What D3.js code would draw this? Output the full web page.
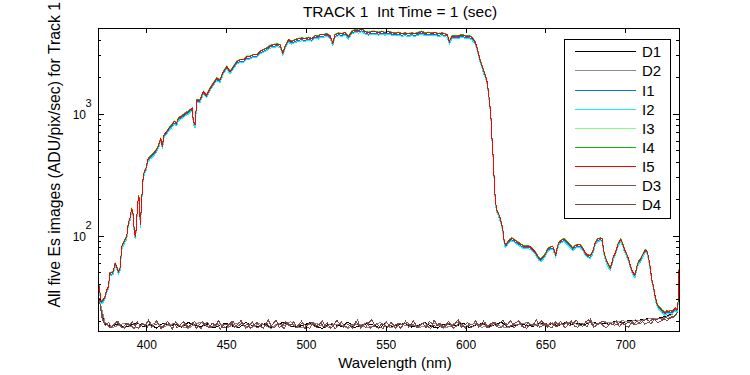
<!DOCTYPE html>
<html>
<head>
<meta charset="utf-8">
<script src="https://cdn.jsdelivr.net/npm/d3@7"></script>
<style>
body { margin: 0; background: #fff; }
svg { display: block; font-family: "Liberation Sans", Arial, Helvetica, sans-serif; }
</style>
</head>
<body>
<svg id="chart" width="750" height="375"></svg>
<script>
// Wavelengths (nm) of the image samples
const signalWl = [
    370.1, 371.3, 372.7, 373.8, 374.9, 375.9, 376.9, 378.0, 379.0, 380.1,
    381.1, 382.1, 383.2, 384.3, 385.3, 386.3, 387.4, 388.4, 389.5, 390.5,
    391.5, 392.2, 393.0, 394.0, 394.7, 395.3, 395.9, 396.8, 397.4, 398.4,
    399.5, 400.6, 402.0, 403.4, 405.1, 406.6, 407.8, 408.7, 409.7, 410.8,
    412.5, 413.9, 415.6, 417.2, 418.7, 419.7, 421.4, 422.9, 423.9, 426.0,
    427.1, 428.5, 429.1, 430.2, 431.3, 433.3, 435.4, 437.5, 439.6, 441.7,
    443.8, 445.9, 447.9, 450.1, 452.1, 454.2, 456.3, 458.4, 460.5, 462.6,
    464.7, 466.7, 468.9, 470.9, 473.0, 475.1, 477.2, 479.3, 481.4, 483.5,
    485.2, 486.6, 488.7, 490.8, 492.9, 494.9, 497.1, 499.1, 501.2, 503.3,
    505.4, 507.5, 508.5, 510.6, 512.7, 514.8, 516.5, 517.9, 520.0, 522.1,
    524.2, 526.3, 528.4, 530.5, 532.5, 534.7, 536.7, 538.8, 540.9, 543.0,
    545.1, 547.2, 549.2, 551.3, 553.4, 555.5, 557.6, 559.7, 561.8, 563.8,
    566.0, 568.0, 570.1, 572.2, 574.3, 576.4, 578.5, 580.6, 582.6, 584.8,
    586.8, 588.3, 589.5, 591.0, 593.1, 595.2, 597.3, 599.4, 601.4, 603.6,
    605.6, 606.7, 607.7, 608.8, 609.8, 610.8, 611.9, 613.0, 614.0, 615.0,
    615.7, 616.3, 617.1, 617.7, 618.4, 619.2, 620.2, 621.3, 622.4, 623.4,
    624.0, 624.9, 625.9, 627.1, 628.6, 629.6, 631.8, 633.8, 635.9, 638.0,
    640.1, 641.2, 643.2, 645.3, 646.8, 648.4, 649.9, 651.0, 652.6, 654.3,
    655.1, 656.2, 657.2, 658.5, 660.0, 661.4, 663.1, 665.2, 666.9, 668.3,
    669.8, 671.5, 673.1, 674.6, 676.0, 677.7, 679.4, 680.8, 682.3, 684.0,
    685.3, 686.1, 687.1, 688.2, 689.2, 690.3, 691.3, 692.3, 693.4, 694.4,
    695.4, 696.9, 698.0, 699.0, 700.3, 701.7, 702.8, 703.8, 704.8, 705.9,
    707.0, 708.0, 709.1, 710.1, 711.1, 712.2, 713.2, 714.2, 715.3, 716.4,
    717.4, 718.5, 719.5, 720.5, 721.6, 722.6, 723.7, 724.7, 725.8, 726.8,
    727.9, 728.9, 730.0, 731.0, 732.1, 732.7, 733.4
];

// I5 (red trace), ADU/pix/sec
const signalI5 = [
    39.1, 28.9, 29.9, 31.8, 36.1, 38.4, 49.5, 50.0, 51.0, 59.7,
    56.0, 51.0, 54.4, 81.7, 87.1, 92.7, 98.7, 127, 140, 169,
    149, 105, 98.7, 163, 210, 204, 123, 197, 279, 337,
    359, 420, 447, 461, 491, 523, 575, 632, 540, 673,
    716, 764, 812, 865, 839, 922, 951, 982, 1013, 1045,
    1079, 1113, 865, 812, 1302, 1302, 1524, 1431, 1624, 1785,
    1962, 1900, 2222, 2442, 2222, 2442, 2684, 2773, 2773, 2950,
    2950, 3048, 3048, 3243, 3350, 3457, 3630, 3680, 3727, 3680,
    3146, 3563, 4044, 3915, 4044, 4120, 4171, 4120, 4220, 4120,
    4385, 4302, 4444, 4444, 4528, 4358, 3800, 4444, 4585, 4528,
    4637, 4302, 4728, 4884, 4819, 4946, 4728, 4637, 4728, 4728,
    4637, 4728, 4637, 4728, 4637, 4585, 4637, 4528, 4585, 4528,
    4585, 4528, 4637, 4728, 4585, 4637, 4585, 4637, 4528, 4585,
    4528, 4444, 3915, 4302, 4358, 4358, 4444, 4358, 4358, 4254,
    3915, 3563, 3146, 2773, 2522, 2294, 2088, 1900, 1524, 1148,
    893, 612, 420, 270, 191, 163, 153, 140, 123, 105,
    87.1, 84.4, 88.2, 92.7, 95.7, 94.0, 89.8, 86.0, 82.8, 82.8,
    81.7, 79.3, 74.3, 66.9, 64.4, 67.7, 72.1, 77.8, 80.8, 81.7,
    76.8, 69.9, 81.7, 89.8, 92.7, 94.0, 89.8, 84.4, 79.3, 82.8,
    84.4, 84.4, 79.3, 73.0, 69.9, 68.5, 74.3, 87.1, 94.0, 95.7,
    94.0, 76.8, 67.7, 61.5, 57.8, 54.4, 59.7, 67.7, 72.1, 79.3,
    87.1, 94.0, 87.1, 79.3, 72.1, 65.6, 57.8, 52.6, 49.5, 47.9,
    56.0, 61.5, 63.6, 67.7, 72.1, 76.8, 75.8, 67.7, 56.0, 43.6,
    38.4, 31.8, 28.1, 26.3, 25.6, 24.7, 24.0, 23.2, 24.4, 24.0,
    24.4, 24.0, 24.7, 25.6, 24.7, 26.3, 52.6
];

// Level of I1..I4 relative to I5
const imageGain = [0.975, 0.955, 1.015, 1.01];

// Dark frames: D3 sampled every 2 nm from 370 nm, D4 every 2 nm from 371 nm
const darkWlD3 = d3.range(370, 734, 2);
const darkWlD4 = d3.range(371, 734, 2);
const darkD3 = [
    31.5, 21.0, 18.4, 19.6, 17.8, 18.9, 20.1, 18.0, 17.5, 19.2,
    18.6, 17.4, 19.8, 18.3, 18.9, 17.7, 19.5, 18.1, 20.3, 18.4,
    17.6, 19.1, 18.7, 17.3, 19.9, 18.5, 18.0, 19.4, 17.9, 18.8,
    20.0, 18.2, 17.5, 18.9, 19.6, 17.8, 18.4, 19.3, 17.2, 18.7,
    19.0, 18.1, 20.2, 17.9, 18.6, 19.4, 17.6, 18.3, 19.8, 18.0,
    17.7, 19.2, 18.5, 20.6, 18.2, 17.8, 19.1, 18.7, 17.4, 19.5,
    18.3, 19.9, 17.6, 18.8, 19.3, 18.0, 17.5, 19.6, 18.4, 18.9,
    20.1, 17.8, 18.6, 19.2, 17.3, 18.7, 19.7, 18.1, 17.9, 19.0,
    18.4, 20.4, 17.7, 18.9, 19.5, 17.6, 18.3, 19.1, 18.0, 17.5,
    19.8, 18.2, 18.8, 17.4, 19.4, 18.6, 20.0, 17.9, 18.5, 19.2,
    17.7, 18.9, 19.6, 18.1, 17.5, 20.5, 18.4, 19.0, 17.8, 18.7,
    19.3, 17.6, 18.2, 19.9, 18.5, 17.4, 19.1, 18.8, 20.2, 17.9,
    18.6, 19.4, 17.7, 18.3, 19.7, 18.0, 17.6, 19.2, 18.9, 20.3,
    17.8, 18.5, 19.5, 18.1, 17.5, 19.0, 18.7, 20.6, 17.9, 18.4,
    19.3, 18.0, 17.7, 19.8, 18.6, 19.1, 17.6, 18.9, 20.1, 18.2,
    17.9, 19.4, 18.5, 18.1, 20.7, 17.8, 18.8, 19.6, 18.3, 17.7,
    19.2, 18.6, 20.2, 18.0, 19.5, 18.4, 17.9, 19.9, 18.7, 19.3,
    20.4, 18.9, 19.7, 19.2, 20.8, 19.5, 20.1, 20.9, 20.3, 21.2,
    21.6, 23.0
];
const darkD4 = [
    26.0, 19.5, 19.0, 17.7, 18.8, 20.0, 18.3, 17.6, 19.3, 18.5,
    19.7, 18.0, 17.5, 19.2, 18.6, 20.4, 17.9, 18.8, 19.1, 17.4,
    18.9, 20.0, 18.2, 19.4, 17.6, 18.7, 19.8, 17.8, 18.4, 19.6,
    17.5, 18.8, 19.9, 18.3, 17.7, 19.3, 18.6, 20.2, 18.0, 17.6,
    18.5, 19.7, 17.8, 18.9, 20.3, 18.1, 19.2, 17.5, 18.7, 19.5,
    18.2, 17.6, 19.4, 18.0, 19.0, 20.5, 17.7, 18.6, 19.8, 18.3,
    19.1, 17.8, 18.5, 20.1, 17.4, 18.9, 19.6, 18.2, 17.7, 19.3,
    18.0, 19.5, 17.6, 18.4, 20.4, 18.8, 17.9, 19.1, 18.6, 17.5,
    19.9, 18.2, 18.7, 17.8, 19.4, 20.6, 18.1, 17.6, 19.0, 18.5,
    17.9, 19.6, 18.3, 19.1, 17.5, 18.9, 19.7, 18.4, 20.2, 17.8,
    18.6, 19.3, 17.7, 20.0, 18.8, 18.1, 19.4, 17.6, 18.5, 19.9,
    18.2, 19.0, 20.6, 17.9, 18.7, 19.5, 17.8, 18.3, 19.2, 18.6,
    20.1, 17.7, 18.9, 19.6, 18.0, 19.3, 20.5, 18.4, 17.9, 18.8,
    19.4, 20.2, 18.1, 17.8, 19.7, 18.5, 19.0, 18.2, 20.3, 19.1,
    18.0, 19.5, 18.7, 17.9, 20.0, 18.6, 19.8, 18.3, 19.2, 20.4,
    18.8, 18.1, 19.9, 20.6, 18.5, 19.3, 18.9, 20.1, 19.6, 18.7,
    19.2, 18.6, 18.9, 20.1, 18.7, 19.4, 19.8, 18.8, 20.2, 19.1,
    20.1, 20.8, 19.9, 21.0, 20.4, 21.3, 20.6, 21.5, 21.1, 21.8,
    22.3, 24.0
];

// Dark frames D1, D2 sampled every 4 nm from 370 nm
const darkWlCoarse = d3.range(370, 734, 4);
const darkD1 = [
    30.0, 18.9, 18.2, 19.1, 17.8, 18.6, 19.4, 18.0, 18.8, 17.6,
    19.2, 18.3, 18.9, 17.9, 19.6, 18.4, 18.1, 19.0, 17.7, 18.7,
    19.3, 18.2, 17.8, 19.5, 18.5, 18.0, 19.1, 17.6, 18.9, 19.7,
    18.3, 17.9, 18.6, 19.4, 18.1, 17.5, 19.0, 18.7, 18.2, 19.8,
    17.8, 18.4, 19.2, 18.6, 17.7, 19.5, 18.0, 18.9, 19.1, 17.9,
    18.5, 19.6, 18.2, 17.6, 19.0, 18.8, 18.3, 19.4, 17.8, 18.6,
    19.2, 18.1, 18.7, 19.7, 17.9, 18.4, 19.0, 18.5, 18.2, 19.3,
    18.7, 19.1, 18.4, 19.6, 18.9, 19.2, 18.6, 19.8, 19.3, 19.0,
    19.5, 20.0, 19.4, 20.3, 20.1, 20.6, 21.0, 20.8, 21.5, 22.0, 23.5
];
const darkD2 = [
    31.0, 19.2, 17.7, 18.5, 19.3, 18.0, 17.6, 19.0, 18.4, 19.6,
    17.9, 18.7, 19.4, 18.1, 17.5, 18.9, 19.7, 18.3, 18.0, 19.2,
    17.6, 18.8, 19.5, 18.2, 17.8, 19.1, 18.6, 17.4, 19.3, 18.5,
    19.8, 18.0, 17.7, 18.9, 19.4, 18.3, 17.9, 19.0, 18.6, 17.5,
    19.1, 18.8, 17.6, 18.4, 19.6, 18.1, 17.8, 19.3, 18.5, 19.0,
    17.7, 18.3, 19.5, 18.9, 17.6, 18.2, 19.7, 18.0, 18.7, 19.2,
    17.8, 18.6, 19.4, 18.1, 17.7, 19.0, 18.8, 19.5, 18.3, 19.1,
    18.5, 19.4, 18.9, 19.0, 19.7, 18.8, 19.3, 19.6, 19.1, 19.9,
    19.4, 19.8, 20.2, 19.7, 20.5, 20.4, 20.9, 21.2, 21.0, 21.8, 23.0
];

const xTicks = [400, 450, 500, 550, 600, 650, 700];
const yMajor = [100, 1000];
const yMinor = [20, 30, 40, 50, 60, 70, 80, 90, 200, 300, 400, 500, 600, 700, 800, 900, 2000, 3000, 4000, 5000];

// Series in plot / legend order
const seriesNames = ["D1", "D2", "I1", "I2", "I3", "I4", "I5", "D3", "D4"];
const seriesColors = ["#000000", "#8c8c8c", "#0a72e8", "#19f0f0", "#80ff80", "#13b413", "#ff0000", "#805050", "#7f4040"];

function buildSeries() {
    const pts = (wl, v) => wl.map((w, i) => ({ x: w, y: v[i] })).filter(d => d.y !== undefined);
    return [
        pts(darkWlCoarse, darkD1),
        pts(darkWlCoarse, darkD2),
        pts(signalWl, signalI5.map(v => v * imageGain[0])),
        pts(signalWl, signalI5.map(v => v * imageGain[1])),
        pts(signalWl, signalI5.map(v => v * imageGain[2])),
        pts(signalWl, signalI5.map(v => v * imageGain[3])),
        pts(signalWl, signalI5),
        pts(darkWlD3, darkD3),
        pts(darkWlD4, darkD4)
    ].map((values, i) => ({ name: seriesNames[i], color: seriesColors[i], values }));
}

const svg = d3.select("#chart");
const margin = { left: 98, right: 71, top: 28, bottom: 44 };
const width = 750 - margin.left - margin.right;
const height = 375 - margin.top - margin.bottom;

const g = svg.append("g")
    .attr("transform", `translate(${margin.left},${margin.top})`);

const x = d3.scaleLinear().domain([369.4, 733.4]).range([0, width]);
const y = d3.scaleLog().domain([16.65, 5070]).range([height, 0]);

svg.append("defs").append("clipPath").attr("id", "plotclip")
    .append("rect").attr("width", width).attr("height", height);

// Data lines
const line = d3.line().x(d => x(d.x)).y(d => y(d.y));
const lines = g.append("g").attr("clip-path", "url(#plotclip)");
buildSeries().forEach(s => {
    lines.append("path")
        .datum(s.values)
        .attr("fill", "none")
        .attr("stroke", s.color)
        .attr("stroke-width", 1)
        .attr("shape-rendering", "crispEdges")
        .attr("d", line);
});

// Box
g.append("rect")
    .attr("width", width).attr("height", height)
    .attr("fill", "none").attr("stroke", "#000").attr("stroke-width", 1)
    .attr("shape-rendering", "crispEdges");

// X ticks, bottom and top, pointing inward
const ticks = g.append("g").attr("stroke", "#000").attr("shape-rendering", "crispEdges");
xTicks.forEach(t => {
    ticks.append("line").attr("x1", x(t)).attr("x2", x(t)).attr("y1", height).attr("y2", height - 5);
    ticks.append("line").attr("x1", x(t)).attr("x2", x(t)).attr("y1", 0).attr("y2", 5);
});
yMajor.forEach(t => {
    ticks.append("line").attr("x1", 0).attr("x2", 6).attr("y1", y(t)).attr("y2", y(t));
    ticks.append("line").attr("x1", width).attr("x2", width - 6).attr("y1", y(t)).attr("y2", y(t));
});
yMinor.forEach(t => {
    ticks.append("line").attr("x1", 0).attr("x2", 3).attr("y1", y(t)).attr("y2", y(t));
    ticks.append("line").attr("x1", width).attr("x2", width - 3).attr("y1", y(t)).attr("y2", y(t));
});

// Tick labels
g.selectAll(".xlab").data(xTicks).enter().append("text")
    .attr("x", d => x(d)).attr("y", height + 18)
    .attr("text-anchor", "middle").attr("font-size", 12)
    .text(d => d);

yMajor.forEach(t => {
    g.append("text").attr("x", -12).attr("y", y(t) + 5)
        .attr("text-anchor", "end").attr("font-size", 12).text("10");
    g.append("text").attr("x", -12.5).attr("y", y(t) - 7)
        .attr("text-anchor", "start").attr("font-size", 11).text(Math.round(Math.log10(t)));
});

// Title and axis labels
svg.append("text")
    .attr("x", 400).attr("y", 17)
    .attr("text-anchor", "middle").attr("font-size", 15.5)
    .style("white-space", "pre")
    .text("TRACK 1  Int Time = 1 (sec)");

svg.append("text")
    .attr("x", 395).attr("y", 368)
    .attr("text-anchor", "middle").attr("font-size", 15)
    .text("Wavelength (nm)");

// y label runs right up to the top edge, as in the reference
svg.append("text")
    .attr("transform", "translate(60,2) rotate(-90)")
    .attr("text-anchor", "end").attr("font-size", 15.8)
    .text("All five Es images (ADU/pix/sec) for Track 1");

// Legend
const legend = svg.append("g").attr("transform", "translate(564,39)");
legend.append("rect")
    .attr("x", 0.5).attr("y", 0.5).attr("width", 106).attr("height", 179)
    .attr("fill", "#fff").attr("stroke", "#000").attr("shape-rendering", "crispEdges");
const entry = legend.selectAll(".entry").data(seriesNames).enter().append("g")
    .attr("transform", (d, i) => `translate(0,${12.7 + i * 19.16})`);
entry.append("line")
    .attr("x1", 11).attr("x2", 72).attr("y1", 0).attr("y2", 0)
    .attr("stroke", (d, i) => seriesColors[i]).attr("stroke-width", 1)
    .attr("shape-rendering", "crispEdges");
entry.append("text")
    .attr("x", 78).attr("y", 5.5).attr("font-size", 15)
    .text(d => d);
</script>
</body>
</html>
